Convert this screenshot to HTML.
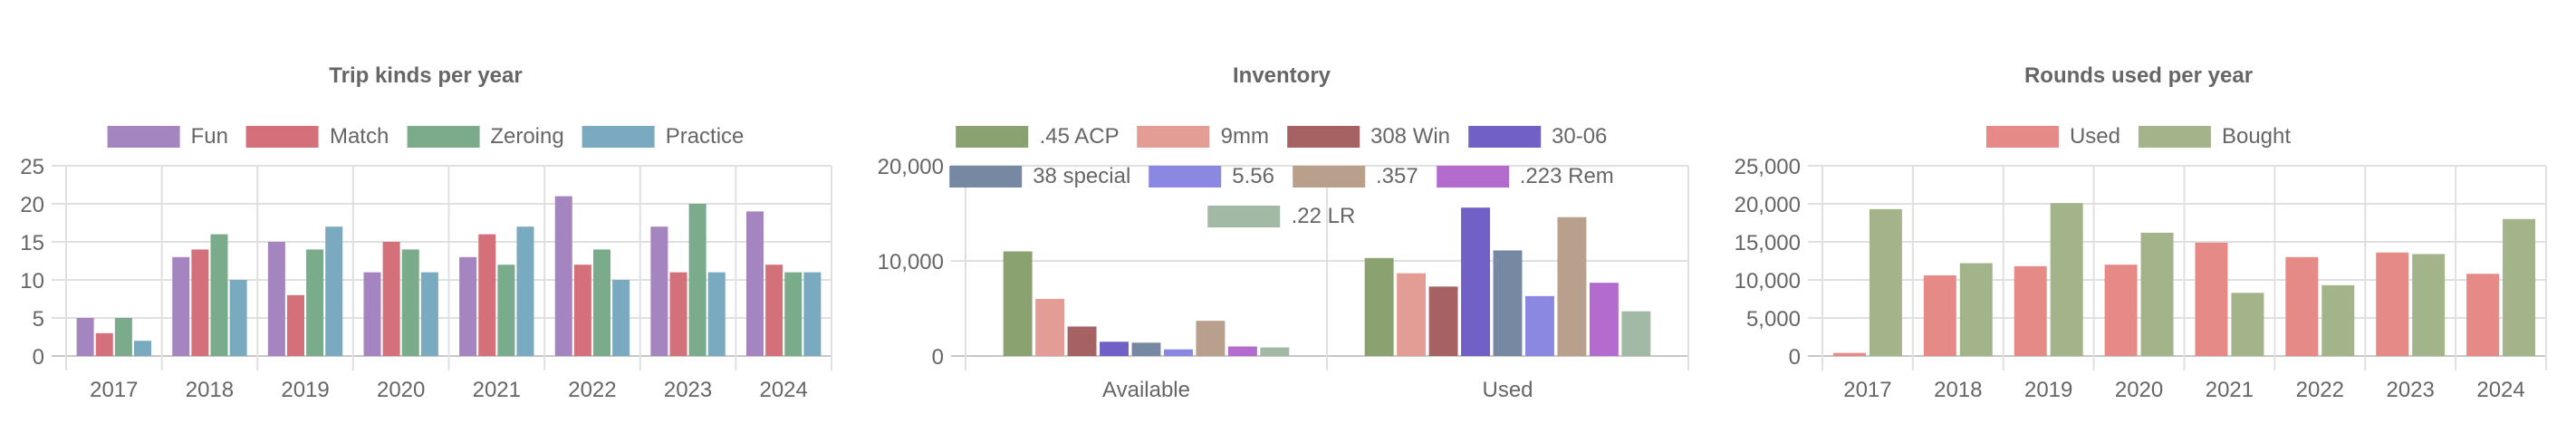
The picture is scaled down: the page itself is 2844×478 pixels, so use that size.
<!DOCTYPE html>
<html><head><meta charset="utf-8">
<style>
html,body{margin:0;padding:0;background:#fff;width:2844px;height:478px;overflow:hidden;font-family:"Liberation Sans",Arial,sans-serif;color:#666}
#wrap{position:relative;width:2844px;height:478px}
.title{position:absolute;top:70px;font-weight:bold;font-size:24px;color:#666;text-align:center;transform:translateX(-50%);white-space:nowrap}
.legend{position:absolute;transform:translateX(-50%);display:flex;flex-direction:column;align-items:center}
.lrow{display:flex;height:44px;align-items:center;white-space:nowrap}
.litem{display:flex;align-items:center;margin:0 10px;font-size:24px;color:#666}
.lbox{width:80px;height:24px;margin-right:12px;box-sizing:border-box}
svg{position:absolute;left:0;top:0}
</style></head><body>
<div id="wrap">
<svg id="svg" width="2844" height="478"></svg>
</div>
<script>
// Chart 1: Trip kinds per year
const tripYears = ["2017","2018","2019","2020","2021","2022","2023","2024"];
const tripFun = [5,13,15,11,13,21,17,19];
const tripMatch = [3,14,8,15,16,12,11,12];
const tripZeroing = [5,16,14,14,12,14,20,11];
const tripPractice = [2,10,17,11,17,10,11,11];
const tripTicks = [0,5,10,15,20,25];

// Chart 2: Inventory
const invCategories = ["Available","Used"];
const invAcp45 = [11000,10300];
const inv9mm = [6000,8700];
const inv308 = [3100,7300];
const inv3006 = [1500,15600];
const inv38sp = [1400,11100];
const inv556 = [700,6300];
const inv357 = [3700,14600];
const inv223 = [1000,7700];
const inv22lr = [900,4700];
const invTicks = [0,10000,20000];

// Chart 3: Rounds used per year
const roundYears = ["2017","2018","2019","2020","2021","2022","2023","2024"];
const roundUsed = [400,10600,11800,12000,14900,13000,13600,10800];
const roundBought = [19300,12200,20100,16200,8300,9300,13400,18000];
const roundTicks = [0,5000,10000,15000,20000,25000];

const NS="http://www.w3.org/2000/svg";
const svg=document.getElementById('svg');
const wrap=document.getElementById('wrap');
function mk(tag,attrs){const e=document.createElementNS(NS,tag);for(const k in attrs)e.setAttribute(k,attrs[k]);svg.appendChild(e);return e;}
function fmt(v){return v.toLocaleString('en-US');}

function chart(o){
  const top=183, bottom=393;
  const {left,right,max}=o;
  const y=v=>bottom-(v/max)*(bottom-top);
  const n=o.cats.length, cw=(right-left)/n;
  const x=i=>left+i*cw;
  o.ticks.forEach(t=>{
    const l=mk('line',{x1:left-16,x2:right,y1:y(t),y2:y(t),stroke:t===0?'#c8c8c8':'#e0e0e0','stroke-width':2});
    
    
    const tx=mk('text',{x:left-24,y:y(t)+9,'text-anchor':'end','font-size':24,fill:'#666','font-family':'Liberation Sans, Arial, sans-serif'});
    tx.textContent=fmt(t);
    
    
  });
  for(let i=0;i<=n;i++){
    const l=mk('line',{x1:x(i),x2:x(i),y1:top,y2:bottom+16,stroke:'#e0e0e0','stroke-width':2});
    
    
  }
  const ns=o.series.length, slot=cw*0.8/ns, bw=slot*0.9;
  o.cats.forEach((c,i)=>{
    const g0=x(i)+cw*0.1;
    o.series.forEach((s,j)=>{
      const v=s.data[i];
      const bx=g0+j*slot+(slot-bw)/2;
      const r=mk('rect',{x:bx,y:y(v),width:bw,height:bottom-y(v),fill:s.color});
      
      
    });
    const tx=mk('text',{x:x(i)+cw/2,y:438,'text-anchor':'middle','font-size':24,fill:'#666','font-family':'Liberation Sans, Arial, sans-serif'});
    tx.textContent=c;
    
    
  });
  const t=document.createElement('div');
  t.className='title';t.style.left=o.cx+'px';t.textContent=o.title;
  
  
  wrap.appendChild(t);
  const lg=document.createElement('div');
  lg.className='legend';lg.style.left=o.cx+'px';lg.style.top='129px';
  
  
  let idx=0;
  o.rows.forEach(cnt=>{
    const row=document.createElement('div');row.className='lrow';
    
    
    for(let k=0;k<cnt && idx<o.series.length;k++){
      const s=o.series[idx++];
      const it=document.createElement('div');it.className='litem';
      
      
      const b=document.createElement('div');b.className='lbox';b.style.background=s.color;
      
      
      const sp=document.createElement('span');sp.textContent=s.label;
      it.appendChild(b);it.appendChild(sp);row.appendChild(it);
    }
    lg.appendChild(row);
  });
  wrap.appendChild(lg);
}

chart({id:'trips',title:'Trip kinds per year',cx:470,left:73,right:918,max:25,cats:tripYears,ticks:tripTicks,rows:[4],
  series:[
    {key:'fun',label:'Fun',color:'#a585bf',data:tripFun},
    {key:'match',label:'Match',color:'#d4707a',data:tripMatch},
    {key:'zeroing',label:'Zeroing',color:'#7aab8a',data:tripZeroing},
    {key:'practice',label:'Practice',color:'#79aabf',data:tripPractice}]});

chart({id:'inventory',title:'Inventory',cx:1415,left:1066,right:1864,max:20000,cats:invCategories,ticks:invTicks,rows:[4,4,1],
  series:[
    {key:'45acp',label:'.45 ACP',color:'#8aa26f',data:invAcp45},
    {key:'9mm',label:'9mm',color:'#e49d94',data:inv9mm},
    {key:'308win',label:'308 Win',color:'#a66262',data:inv308},
    {key:'30-06',label:'30-06',color:'#7161c6',data:inv3006},
    {key:'38special',label:'38 special',color:'#7788a3',data:inv38sp},
    {key:'556',label:'5.56',color:'#8a88e0',data:inv556},
    {key:'357',label:'.357',color:'#b8a08c',data:inv357},
    {key:'223rem',label:'.223 Rem',color:'#b36ccd',data:inv223},
    {key:'22lr',label:'.22 LR',color:'#a2b9a5',data:inv22lr}]});

chart({id:'rounds',title:'Rounds used per year',cx:2361,left:2012,right:2811,max:25000,cats:roundYears,ticks:roundTicks,rows:[2],
  series:[
    {key:'used',label:'Used',color:'#e68a87',data:roundUsed},
    {key:'bought',label:'Bought',color:'#a3b38a',data:roundBought}]});
</script>
</body></html>
